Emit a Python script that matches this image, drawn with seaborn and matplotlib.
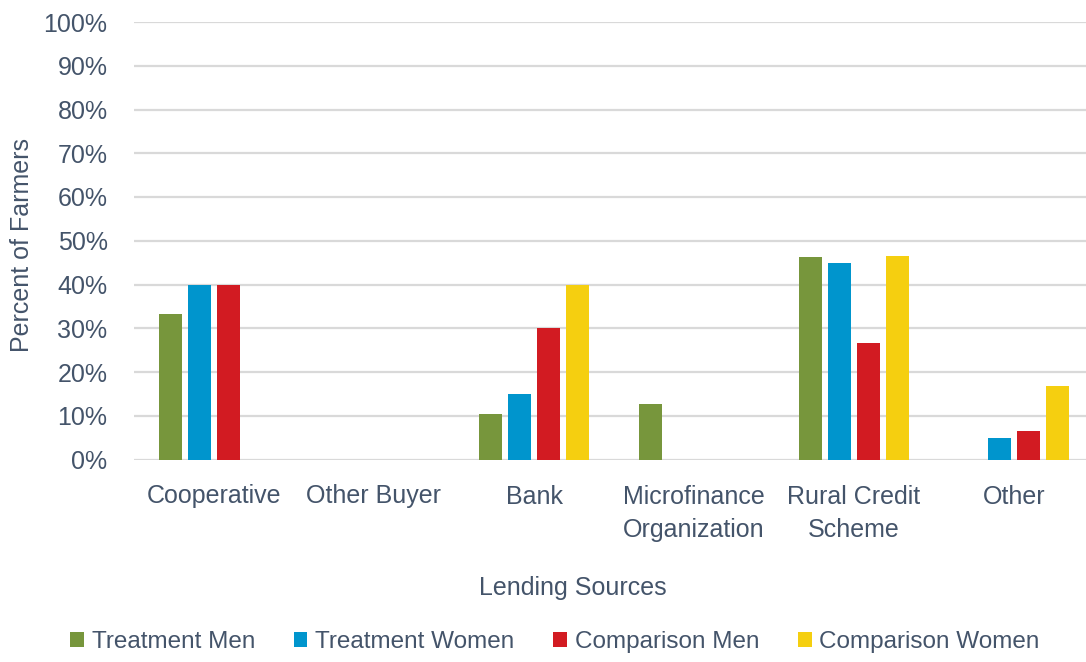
import matplotlib
matplotlib.use("Agg")
import matplotlib.pyplot as plt
import seaborn as sns
import pandas as pd
from matplotlib.ticker import PercentFormatter
from matplotlib.patches import Patch

categories = ["Cooperative", "Other Buyer", "Bank", "Microfinance\nOrganization",
              "Rural Credit\nScheme", "Other"]
groups = ["Treatment Men", "Treatment Women", "Comparison Men", "Comparison Women"]
treatment_men = [33.3, 0, 10.3, 12.8, 46.2, 0]
treatment_women = [40.0, 0, 15.0, 0, 45.0, 5.0]
comparison_men = [40.0, 0, 30.0, 0, 26.6, 6.6]
comparison_women = [0, 0, 40.0, 0, 46.6, 16.7]
colors = ["#77963C", "#0095CD", "#D21B22", "#F5CF10"]
yticks = list(range(0, 101, 10))

series = [treatment_men, treatment_women, comparison_men, comparison_women]
rows = []
for g, vals in zip(groups, series):
    for c, v in zip(categories, vals):
        rows.append({"Lending Sources": c, "Group": g, "Percent": v})
df = pd.DataFrame(rows)

sns.set_theme(style="white")
txt = "#44546A"
plt.rcParams["font.family"] = ["Liberation Sans", "DejaVu Sans"]

fig = plt.figure(figsize=(10.86, 6.62), dpi=100)
W, H = 1086, 662
ax = fig.add_axes([134 / W, 1 - 459.5 / H, 960 / W, (459.5 - 22) / H])

sns.barplot(data=df, x="Lending Sources", y="Percent", hue="Group",
            hue_order=groups, order=categories, palette=colors, saturation=1,
            width=0.725, gap=0.2, ax=ax, legend=False, linewidth=0, errorbar=None)

ax.set_xlim(-0.5, len(categories) - 0.5)
ax.set_ylim(0, 100)
ax.set_yticks(yticks)
ax.yaxis.set_major_formatter(PercentFormatter(decimals=0))
ax.grid(axis="y", color="#D9D9D9", linewidth=1.6)
ax.set_axisbelow(True)
for s in ax.spines.values():
    s.set_visible(False)
ax.tick_params(axis="both", length=0, labelsize=18, colors=txt)
ax.tick_params(axis="y", pad=19)
ax.tick_params(axis="x", pad=18)
for lab in ax.get_xticklabels():
    lab.set_linespacing(1.52)
ax.set_xlabel("Lending Sources", fontsize=18, color=txt)
ax.xaxis.set_label_coords((573 - 134) / 960, -(576 - 459.5) / 437.5)
ax.set_ylabel("Percent of Farmers", fontsize=18, color=txt)
ax.yaxis.set_label_coords((34 - 134) / 960, (459.5 - 245) / 437.5)

handles = [Patch(facecolor=c, edgecolor="none") for c in colors]
fig.legend(handles, groups, loc="center", bbox_to_anchor=(555 / W, 1 - 642 / H),
           ncol=4, frameon=False, fontsize=17.5, labelcolor=txt,
           handlelength=0.56, handleheight=0.56, handletextpad=0.32, columnspacing=1.6)

fig.savefig("out.png", dpi=100)
